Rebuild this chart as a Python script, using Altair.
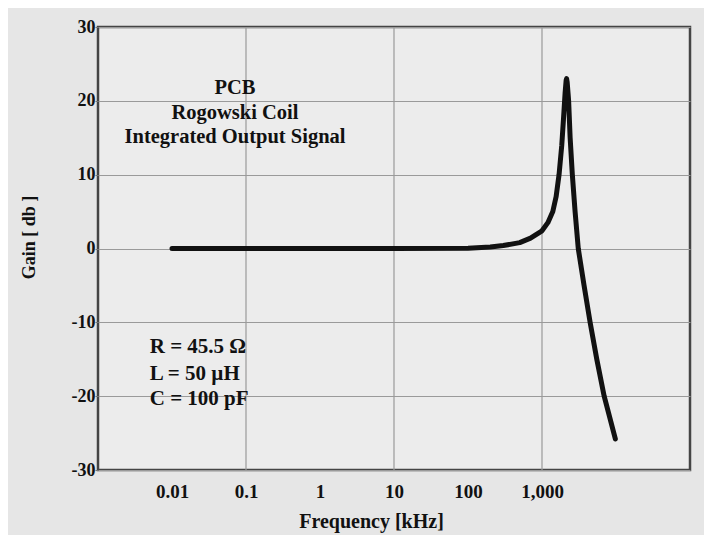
import altair as alt
import pandas as pd

# Curve (frequency in kHz, gain in dB)
freq = [0.01, 0.1, 1, 10, 100, 200, 300, 500, 700, 1000, 1200, 1400, 1550, 1700,
        1850, 1950, 2050, 2120, 2150, 2190, 2250, 2290, 2400, 2570, 2800, 3090,
        3700, 4470, 5500, 6920, 9800]
gain = [0.0, 0.0, 0.0, 0.0, 0.05, 0.2, 0.4, 0.8, 1.4, 2.4, 3.5, 5.0, 7.0, 10.0,
        14.0, 17.5, 21.0, 22.8, 23.0, 22.5, 21.0, 20.0, 15.0, 10.0, 5.0, 0.0,
        -5.0, -10.0, -15.0, -20.0, -25.8]

x_labels = [0.01, 0.1, 1, 10, 100, 1000]
x_grid = [0.1, 10, 1000]
y_ticks = [-30, -20, -10, 0, 10, 20, 30]

title_lines = ["PCB", "Rogowski Coil", "Integrated Output Signal"]
title_f = [0.071, 0.071, 0.071]
title_g = [21.7, 18.3, 15.1]

param_lines = ["R = 45.5  \u03a9", "L = 50  \u00b5H", "C = 100  pF"]
param_f = [0.005, 0.005, 0.005]
param_g = [-13.4, -17.0, -20.4]

FONT = "Liberation Serif"

curve = pd.DataFrame({"f": freq, "g": gain})
grid_df = pd.DataFrame({"f": x_grid})
t_df = pd.DataFrame({"f": title_f, "g": title_g, "t": title_lines})
p_df = pd.DataFrame({"f": param_f, "g": param_g, "t": param_lines})

xs = alt.Scale(type="log", domain=[0.001, 100000], nice=False)
ys = alt.Scale(domain=[-30, 30], nice=False)

x_axis = alt.Axis(
    values=x_labels, title="Frequency [kHz]", grid=False, tickSize=0, domain=False,
    labelExpr="datum.value >= 1000 ? format(datum.value, ',') : datum.value + ''",
    labelFont=FONT, labelFontWeight="bold", labelFontSize=19, labelColor="#111",
    labelPadding=12, labelFlush=False,
    titleFont=FONT, titleFontWeight="bold", titleFontSize=20, titleColor="#111",
    titleX=273, titleY=41,
)
y_axis = alt.Axis(
    values=y_ticks, title="Gain [ db ]", grid=True, gridColor="#9a9a9a", gridWidth=1.2,
    tickSize=3, tickColor="#777", domain=False,
    labelExpr="datum.value + ''",
    labelFont=FONT, labelFontWeight="bold", labelFontSize=18, labelColor="#111",
    labelPadding=0, labelFlush=False,
    titleFont=FONT, titleFontWeight="bold", titleFontSize=18, titleColor="#111",
    titleX=-60, titleY=210,
)

gridlines = alt.Chart(grid_df).mark_rule(color="#9a9a9a", strokeWidth=1.2).encode(
    x=alt.X("f:Q", scale=xs, axis=x_axis)
)

line = alt.Chart(curve).mark_line(color="#111", strokeWidth=5, strokeCap="round",
                                   strokeJoin="round").encode(
    x=alt.X("f:Q", scale=xs, axis=x_axis),
    y=alt.Y("g:Q", scale=ys, axis=y_axis),
)

titles = alt.Chart(t_df).mark_text(font=FONT, fontWeight="bold", fontSize=20.5,
                                   color="#111", align="center").encode(
    x=alt.X("f:Q", scale=xs), y=alt.Y("g:Q", scale=ys), text="t:N"
)
params = alt.Chart(p_df).mark_text(font=FONT, fontWeight="bold", fontSize=21,
                                   color="#111", align="left").encode(
    x=alt.X("f:Q", scale=xs), y=alt.Y("g:Q", scale=ys), text="t:N"
)

chart = alt.layer(gridlines, line, titles, params).properties(
    width=592, height=443,
    autosize=alt.AutoSizeParams(type="none"),
    padding={"left": 90, "top": 19, "right": 14, "bottom": 65},
    background="#e6e6e6",
).configure_view(
    fill="#ececec", stroke="#444", strokeWidth=2.5
)

chart.save("out.html", embed_options={"renderer": "svg", "actions": False})
